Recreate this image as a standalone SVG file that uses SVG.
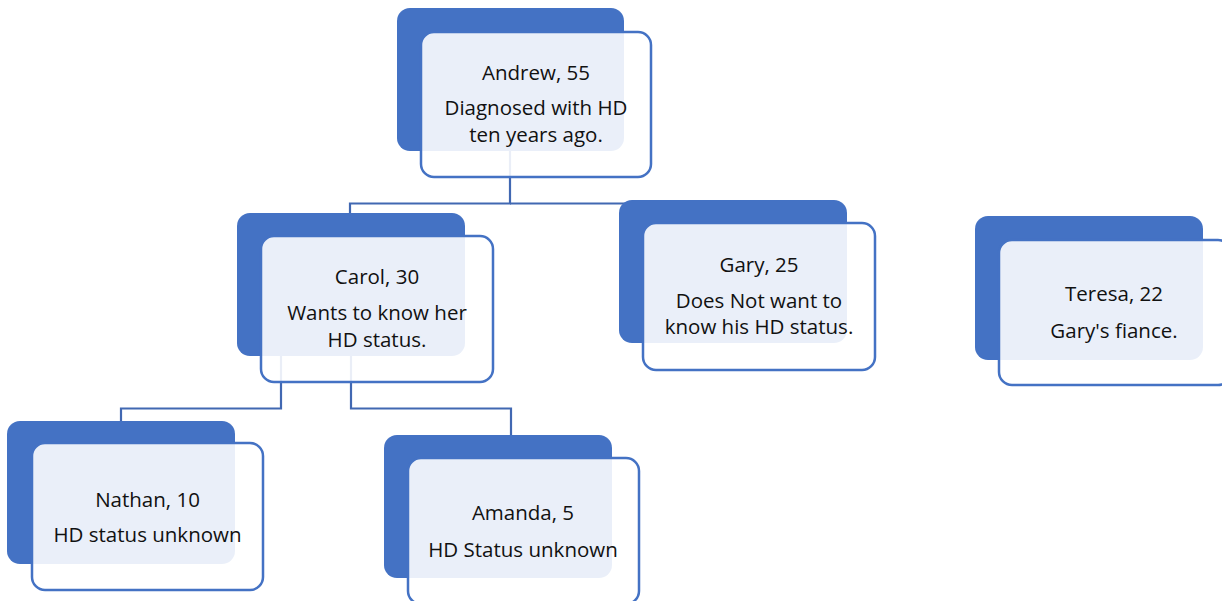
<svg xmlns="http://www.w3.org/2000/svg" width="1222" height="601" viewBox="0 0 1222 601">
  <style>
    .back { fill: #4472C4; }
    .front { fill: #FFFFFF; fill-opacity: 0.89; stroke: #4472C4; stroke-width: 2.5; }
    .lbl { font-family: "Open Sans", "Noto Sans", sans-serif; font-size: 20.5px; fill: #111111; text-anchor: middle; }
    .conn { fill: none; stroke: #4168B2; stroke-width: 2.2; }
  </style>
  <rect width="1222" height="601" fill="#FFFFFF"/>

  <!-- connectors, drawn beneath the cards -->
  <g id="connectors">
    <path class="conn" d="M510 150 V203.5 H350 V214"/>
    <path class="conn" d="M510 203.5 H640"/>
    <path class="conn" d="M281 355 V408.5 H121 V422"/>
    <path class="conn" d="M351 355 V408.5 H511 V436"/>
  </g>

  <g id="andrew">
    <rect class="back" x="397" y="8" width="227" height="143" rx="13"/>
    <rect class="front" x="421" y="32" width="230" height="145" rx="13"/>
    <text class="lbl" x="536" y="80">Andrew, 55</text>
    <text class="lbl" x="536" y="115">Diagnosed with HD</text>
    <text class="lbl" x="536" y="142">ten years ago.</text>
  </g>

  <g id="carol">
    <rect class="back" x="237" y="213" width="228" height="143" rx="13"/>
    <rect class="front" x="261" y="236" width="232" height="146" rx="13"/>
    <text class="lbl" x="377" y="284">Carol, 30</text>
    <text class="lbl" x="377" y="320">Wants to know her</text>
    <text class="lbl" x="377" y="347">HD status.</text>
  </g>

  <g id="gary">
    <rect class="back" x="619" y="200" width="228" height="143" rx="13"/>
    <rect class="front" x="643" y="223" width="232" height="147" rx="13"/>
    <text class="lbl" x="759" y="272">Gary, 25</text>
    <text class="lbl" x="759" y="308">Does Not want to</text>
    <text class="lbl" x="759" y="334">know his HD status.</text>
  </g>

  <g id="teresa">
    <rect class="back" x="975" y="216" width="228" height="144" rx="13"/>
    <rect class="front" x="999" y="240" width="232" height="145" rx="13"/>
    <text class="lbl" x="1114" y="301">Teresa, 22</text>
    <text class="lbl" x="1114" y="338">Gary's fiance.</text>
  </g>

  <g id="nathan">
    <rect class="back" x="7" y="421" width="228" height="143" rx="13"/>
    <rect class="front" x="32" y="443" width="231" height="147" rx="13"/>
    <text class="lbl" x="147.5" y="507">Nathan, 10</text>
    <text class="lbl" x="147.5" y="542">HD status unknown</text>
  </g>

  <g id="amanda">
    <rect class="back" x="384" y="435" width="228" height="143" rx="13"/>
    <rect class="front" x="408" y="458" width="231" height="146" rx="13"/>
    <text class="lbl" x="523" y="520">Amanda, 5</text>
    <text class="lbl" x="523" y="557">HD Status unknown</text>
  </g>
</svg>
